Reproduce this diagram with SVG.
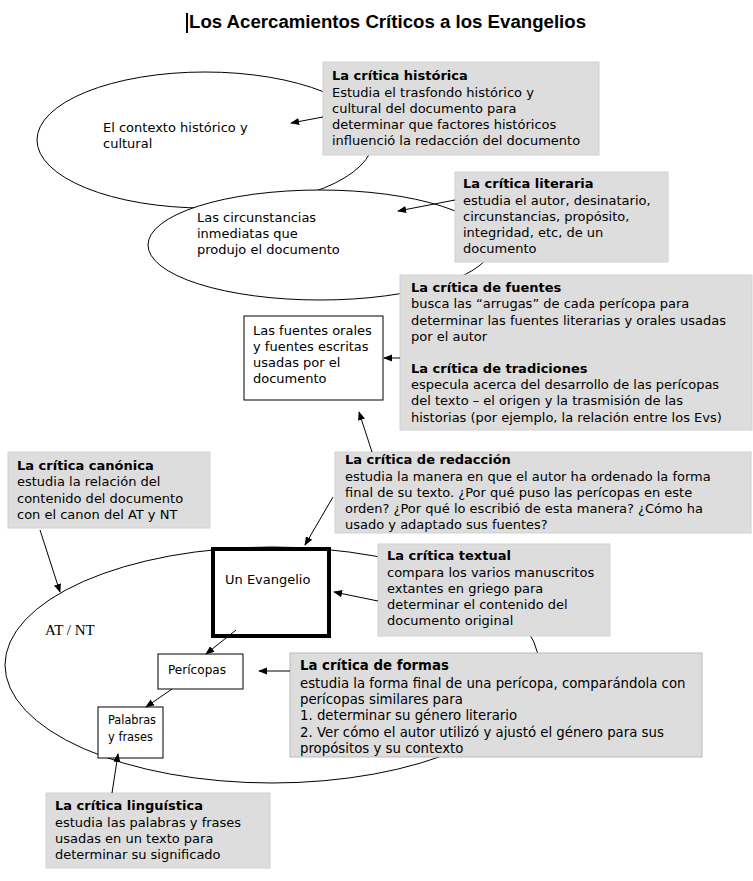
<svg xmlns="http://www.w3.org/2000/svg" width="753" height="881" viewBox="0 0 753 881">
<style>
.bg{fill:#ffffff}
.ell{fill:#ffffff;stroke:#000;stroke-width:1}
.gbox{fill:#dddddd;stroke:#d2d2d2;stroke-width:1}
.wbox{fill:#ffffff;stroke:#000;stroke-width:1}
.t{font-family:"DejaVu Sans",Verdana,sans-serif;font-size:13px;fill:#000}
.b{font-weight:bold}
.th{font-family:"DejaVu Sans",Tahoma,sans-serif;font-size:13px;fill:#000}
.thf{font-family:"DejaVu Sans",Tahoma,sans-serif;font-size:13.3px;fill:#000}
.title{font-family:"Liberation Sans",Arial,sans-serif;font-size:18px;font-weight:bold;fill:#000}
.serif{font-family:"Liberation Serif","Times New Roman",serif;font-size:15px;fill:#000}
.c{stroke:#000;stroke-width:1;fill:none;marker-end:url(#ah)}
</style>
<defs>
<marker id="ah" viewBox="0 0 10 10" refX="9" refY="5" markerWidth="9" markerHeight="9" markerUnits="userSpaceOnUse" orient="auto">
<path d="M0,1 L10,5 L0,9 z" fill="#000"/>
</marker>
</defs>
<rect class="bg" x="0" y="0" width="753" height="881"/>
<g id="title">
<rect x="186" y="13" width="2" height="20" fill="#000"/>
<text class="title" x="189" y="28" textLength="397" lengthAdjust="spacingAndGlyphs">Los Acercamientos Críticos a los Evangelios</text>
</g>
<g id="contexto">
<ellipse class="ell" cx="205" cy="140" rx="168" ry="68"/>
<text class="t" x="103" y="132">El contexto histórico y</text>
<text class="t" x="103" y="148">cultural</text>
</g>
<g id="circunstancias">
<ellipse class="ell" cx="320" cy="245" rx="172" ry="55"/>
<text class="t" x="197" y="222">Las circunstancias</text>
<text class="t" x="197" y="238">inmediatas que</text>
<text class="t" x="197" y="254">produjo el documento</text>
</g>
<g id="atnt">
<ellipse class="ell" cx="272" cy="665" rx="267" ry="118"/>
<text class="serif" x="45" y="635">AT / NT</text>
</g>
<g id="historica">
<rect class="gbox" x="323" y="62" width="276" height="93"/>
<text class="t b" x="332" y="80">La crítica histórica</text>
<text class="t" x="332" y="97">Estudia el trasfondo histórico y</text>
<text class="t" x="332" y="113">cultural del documento para</text>
<text class="t" x="332" y="129">determinar que factores históricos</text>
<text class="t" x="332" y="145">influenció la redacción del documento</text>
</g>
<g id="literaria">
<rect class="gbox" x="455" y="172" width="213" height="90"/>
<text class="t b" x="463" y="188">La crítica literaria</text>
<text class="t" x="463" y="205">estudia el autor, desinatario,</text>
<text class="t" x="463" y="221">circunstancias, propósito,</text>
<text class="t" x="463" y="237">integridad, etc, de un</text>
<text class="t" x="463" y="253">documento</text>
</g>
<g id="fuentes-tradiciones">
<rect class="gbox" x="400" y="275" width="352" height="155"/>
<text class="t b" x="411" y="292">La crítica de fuentes</text>
<text class="t" x="411" y="308">busca las “arrugas” de cada perícopa para</text>
<text class="t" x="411" y="325">determinar las fuentes literarias y orales usadas</text>
<text class="t" x="411" y="341">por el autor</text>
<text class="t b" x="411" y="373">La crítica de tradiciones</text>
<text class="t" x="411" y="389">especula acerca del desarrollo de las perícopas</text>
<text class="t" x="411" y="405">del texto – el origen y la trasmisión de las</text>
<text class="t" x="411" y="422">historias (por ejemplo, la relación entre los Evs)</text>
</g>
<g id="fuentes-orales">
<rect class="wbox" x="244" y="316" width="139" height="84"/>
<text class="t" x="253" y="335">Las fuentes orales</text>
<text class="t" x="253" y="351">y fuentes escritas</text>
<text class="t" x="253" y="367">usadas por el</text>
<text class="t" x="253" y="383">documento</text>
</g>
<g id="canonica">
<rect class="gbox" x="8" y="452" width="202" height="76"/>
<text class="t b" x="17" y="470">La crítica canónica</text>
<text class="t" x="17" y="486">estudia la relación del</text>
<text class="t" x="17" y="503">contenido del documento</text>
<text class="t" x="17" y="519">con el canon del AT y NT</text>
</g>
<g id="redaccion">
<rect class="gbox" x="335" y="452" width="416" height="81"/>
<text class="t b" x="345" y="464">La crítica de redacción</text>
<text class="t" x="345" y="481">estudia la manera en que el autor ha ordenado la forma</text>
<text class="t" x="345" y="497">final de su texto. ¿Por qué puso las perícopas en este</text>
<text class="t" x="345" y="513">orden? ¿Por qué lo escribió de esta manera? ¿Cómo ha</text>
<text class="t" x="345" y="529">usado y adaptado sus fuentes?</text>
</g>
<g id="evangelio">
<rect x="213" y="549" width="116" height="87" fill="#fff" stroke="#000" stroke-width="4"/>
<text class="th" x="225" y="584">Un Evangelio</text>
</g>
<g id="textual">
<rect class="gbox" x="378" y="544" width="232" height="92"/>
<text class="th b" x="387" y="560">La crítica textual</text>
<text class="th" x="387" y="577">compara los varios manuscritos</text>
<text class="th" x="387" y="593">extantes en griego para</text>
<text class="th" x="387" y="609">determinar el contenido del</text>
<text class="th" x="387" y="625">documento original</text>
</g>
<g id="pericopas">
<rect class="wbox" x="158" y="654" width="85" height="35"/>
<text class="th" x="168" y="674" textLength="58" lengthAdjust="spacingAndGlyphs">Perícopas</text>
</g>
<g id="formas">
<rect x="290" y="653" width="412" height="104" fill="#dddddd" stroke="#bbbbbb"/>
<text class="thf b" x="300" y="670">La crítica de formas</text>
<text class="thf" x="300" y="688">estudia la forma final de una perícopa, comparándola con</text>
<text class="thf" x="300" y="704">perícopas similares para</text>
<text class="thf" x="300" y="720">1. determinar su género literario</text>
<text class="thf" x="300" y="737">2. Ver cómo el autor utilizó y ajustó el género para sus</text>
<text class="thf" x="300" y="753">propósitos y su contexto</text>
</g>
<g id="palabras">
<rect class="wbox" x="98" y="707" width="65" height="51"/>
<text class="th" x="108" y="724" textLength="48" lengthAdjust="spacingAndGlyphs">Palabras</text>
<text class="th" x="108" y="741" textLength="45" lengthAdjust="spacingAndGlyphs">y frases</text>
</g>
<g id="linguistica">
<rect class="gbox" x="46" y="793" width="224" height="75"/>
<text class="t b" x="55" y="810">La crítica linguística</text>
<text class="t" x="55" y="827">estudia las palabras y frases</text>
<text class="t" x="55" y="843">usadas en un texto para</text>
<text class="t" x="55" y="859">determinar su significado</text>
</g>
<g id="connectors">
<line class="c" x1="323" y1="117" x2="291" y2="123"/>
<line class="c" x1="455" y1="200" x2="398" y2="211"/>
<line class="c" x1="400" y1="358" x2="384" y2="358"/>
<line class="c" x1="372" y1="452" x2="359" y2="412"/>
<line class="c" x1="333" y1="497" x2="305" y2="545"/>
<line class="c" x1="40" y1="530" x2="60" y2="592"/>
<line class="c" x1="378" y1="601" x2="334" y2="592"/>
<line class="c" x1="236" y1="630" x2="206" y2="654"/>
<line class="c" x1="290" y1="671" x2="259" y2="671"/>
<line class="c" x1="172" y1="689" x2="146" y2="707"/>
<line class="c" x1="112" y1="793" x2="118" y2="754"/>
</g>
</svg>
